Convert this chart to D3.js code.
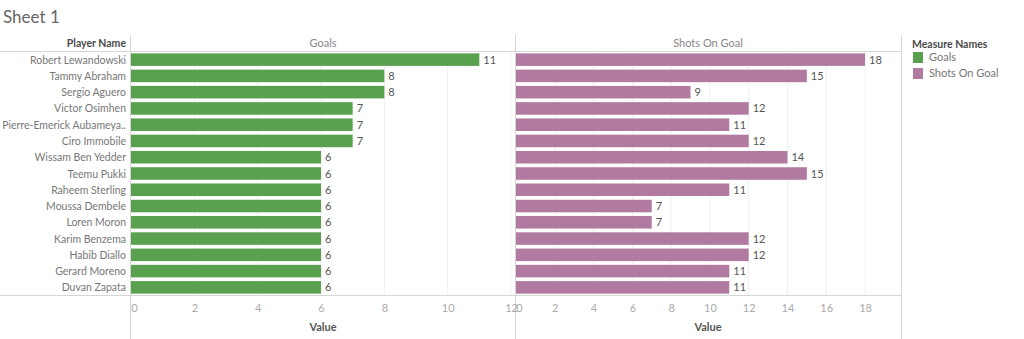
<!DOCTYPE html>
<html>
<head>
<meta charset="utf-8">
<script src="https://cdn.jsdelivr.net/npm/d3@7"></script>
<style>
  html, body { margin: 0; padding: 0; background: #fff; }
  svg { display: block; font-family: Lato, "Open Sans", sans-serif; }
</style>
</head>
<body>
<svg id="chart" width="1024" height="339"></svg>
<script>
// Player list and the two measures shown side by side
const players = [
  "Robert Lewandowski", "Tammy Abraham", "Sergio Aguero", "Victor Osimhen",
  "Pierre-Emerick Aubameya..", "Ciro Immobile", "Wissam Ben Yedder", "Teemu Pukki",
  "Raheem Sterling", "Moussa Dembele", "Loren Moron", "Karim Benzema",
  "Habib Diallo", "Gerard Moreno", "Duvan Zapata"
];
const goals = [11, 8, 8, 7, 7, 7, 6, 6, 6, 6, 6, 6, 6, 6, 6];
const shotsOnGoal = [18, 15, 9, 12, 11, 12, 14, 15, 11, 7, 7, 12, 12, 11, 11];
const goalTicks = [0, 2, 4, 6, 8, 10, 12];
const shotTicks = [0, 2, 4, 6, 8, 10, 12, 14, 16, 18];
const measureNames = ["Goals", "Shots On Goal"];

const colors = { "Goals": "#59a14f", "Shots On Goal": "#b07aa1" };
const lineColor = "#d6d6d6";
const gridColor = "#efefef";

const svg = d3.select("#chart");

// Title
svg.append("text").attr("x", 3).attr("y", 23)
  .attr("font-size", 17).attr("fill", "#666").text("Sheet 1");

const plotTop = 51.5, plotBottom = 295.5;
const y = d3.scaleBand().domain(players).range([plotTop, plotBottom]).paddingInner(0.23).paddingOuter(0.115);

const panels = [
  { name: "Goals", values: goals, ticks: goalTicks,
    x: d3.scaleLinear().domain([0, 12]).range([131, 511]), left: 131, right: 515 },
  { name: "Shots On Goal", values: shotsOnGoal, ticks: shotTicks,
    x: d3.scaleLinear().domain([0, 18]).range([516, 865]), left: 515, right: 901 }
];

// Gridlines
panels.forEach(p => {
  svg.append("g").selectAll("line").data(p.ticks.filter(t => t > 0)).join("line")
    .attr("x1", d => p.x(d)).attr("x2", d => p.x(d))
    .attr("y1", plotTop).attr("y2", plotBottom)
    .attr("stroke", gridColor).attr("stroke-width", 1);
});

// Structural lines
const g = svg.append("g").attr("stroke", lineColor).attr("stroke-width", 1);
g.append("line").attr("x1", 0).attr("x2", 901).attr("y1", plotTop).attr("y2", plotTop);
g.append("line").attr("x1", 0).attr("x2", 901).attr("y1", plotBottom).attr("y2", plotBottom);
[130.5, 515.5, 901.5].forEach(x => {
  g.append("line").attr("x1", x).attr("x2", x).attr("y1", 35).attr("y2", 339);
});

// Header row
svg.append("text").attr("x", 126).attr("y", 47).attr("text-anchor", "end")
  .attr("font-size", 10.5).attr("font-weight", "bold").attr("fill", "#4a4a4a").text("Player Name");

// Row labels
svg.append("g").selectAll("text").data(players).join("text")
  .attr("x", 126).attr("y", d => y(d) + y.bandwidth() / 2 + 4)
  .attr("text-anchor", "end").attr("font-size", 10.5).attr("fill", "#777").text(d => d);

panels.forEach(p => {
  svg.append("text").attr("x", (p.left + p.right) / 2).attr("y", 47)
    .attr("text-anchor", "middle").attr("font-size", 11).attr("fill", "#888").text(p.name);

  const rows = players.map((name, i) => ({ name, v: p.values[i] }));
  svg.append("g").selectAll("rect").data(rows).join("rect")
    .attr("x", p.x(0)).attr("y", d => y(d.name))
    .attr("width", d => p.x(d.v) - p.x(0)).attr("height", y.bandwidth())
    .attr("fill", colors[p.name]);

  svg.append("g").selectAll("text").data(rows).join("text")
    .attr("x", d => p.x(d.v) + 4).attr("y", d => y(d.name) + y.bandwidth() / 2 + 4)
    .attr("font-size", 11).attr("fill", "#555").text(d => d.v);

  // Bottom axis
  const ax = svg.append("g").attr("transform", `translate(0,${plotBottom})`)
    .call(d3.axisBottom(p.x).tickValues(p.ticks).tickSize(0).tickPadding(9));
  ax.select(".domain").remove();
  ax.selectAll("text").attr("font-size", 11).attr("fill", "#aaa")
    .attr("font-family", "Lato, 'Open Sans', sans-serif")
    .attr("dx", d => d === 0 ? 3 : 0);

  svg.append("text").attr("x", (p.left + p.right) / 2).attr("y", 331)
    .attr("text-anchor", "middle").attr("font-size", 11).attr("font-weight", "bold")
    .attr("fill", "#555").text("Value");
});

// Legend
const lg = svg.append("g");
lg.append("text").attr("x", 912).attr("y", 48).attr("font-size", 10.5)
  .attr("font-weight", "bold").attr("fill", "#4a4a4a").text("Measure Names");
measureNames.forEach((m, i) => {
  lg.append("rect").attr("x", 913).attr("y", 52 + i * 16).attr("width", 10).attr("height", 11)
    .attr("fill", colors[m]);
  lg.append("text").attr("x", 929).attr("y", 61 + i * 16).attr("font-size", 11)
    .attr("fill", "#777").text(m);
});
</script>
</body>
</html>
